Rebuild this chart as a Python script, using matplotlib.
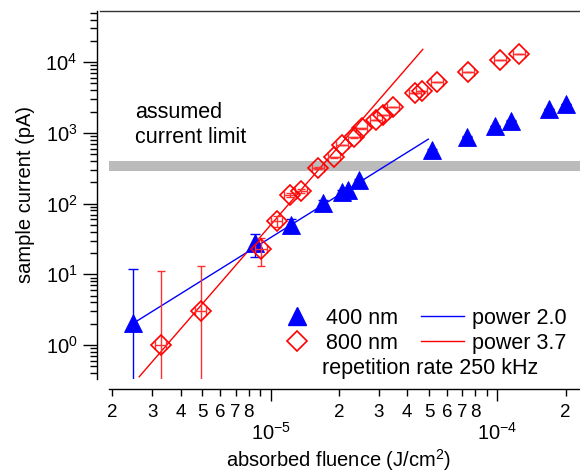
import numpy as np
import matplotlib
matplotlib.use('Agg')
import matplotlib.pyplot as plt
from matplotlib.ticker import LogLocator, FuncFormatter, NullFormatter
from matplotlib.lines import Line2D

plt.rcParams['font.family'] = ['Liberation Sans', 'DejaVu Sans']
plt.rcParams['mathtext.fontset'] = 'custom'
plt.rcParams['mathtext.rm'] = 'Liberation Sans'
plt.rcParams['mathtext.default'] = 'rm'

# 400 nm data (J/cm^2, pA)
fluence_400 = [2.46e-6, 8.53e-6, 1.223e-5, 1.71e-5, 2.06e-5, 2.2e-5, 2.46e-5,
               5.13e-5, 7.37e-5, 9.77e-5, 1.15e-4, 1.69e-4, 2.02e-4]
current_400 = [2.07, 27.4, 49.8, 101, 147, 156, 216,
               573, 884, 1252, 1489, 2157, 2564]
yerr_400 = 10

# 800 nm data
fluence_800 = [3.27e-6, 4.91e-6, 9.06e-6, 1.063e-5, 1.217e-5, 1.36e-5, 1.62e-5,
               1.90e-5, 2.06e-5, 2.33e-5, 2.52e-5, 2.91e-5, 3.14e-5, 3.48e-5,
               4.33e-5, 4.64e-5, 5.43e-5, 7.45e-5, 1.03e-4, 1.247e-4]
current_800 = [1.0, 3.0, 23, 57, 132, 151, 316,
               452, 674, 866, 1161, 1522, 1791, 2348,
               3630, 3955, 5297, 7340, 10740, 12940]
yerr_800 = 10
xerr_800_rel = 0.06

# power-law fits: exponent, log10 prefactor, fluence range
fit_400 = (2.0, 11.52, 2.46e-6, 4.96e-5)
fit_800 = (3.7, 20.198, 2.63e-6, 4.69e-5)

limit_band = (290, 400)

xlim = (1.94e-6, 2.317e-4)
ylim = (0.3305, 5.35e4)


def _decade_fmt(v, pos):
	return "10$^{%d}$" % int(round(np.log10(v)))


def _minor_fmt(v, pos):
	m = v / 10 ** np.floor(np.log10(v) + 1e-9)
	k = int(round(m))
	if 2 <= k <= 8:
		return str(k)
	return ""


fig = plt.figure(figsize=(5.8, 4.72), dpi=100)
ax = fig.add_axes([109.3 / 580, (472 - 379) / 472, (580 - 109.3) / 580, (379 - 10.7) / 472])
ax.set_xscale('log')
ax.set_yscale('log')
ax.set_xlim(*xlim)
ax.set_ylim(*ylim)

ax.axhspan(limit_band[0], limit_band[1], color='#bbbbbb', lw=0, zorder=0)

for (p, la, lo, hi), c in [(fit_400, 'blue'), (fit_800, 'red')]:
	xf = np.geomspace(lo, hi, 50)
	ax.plot(xf, 10 ** la * xf ** p, color=c, lw=1, zorder=2)

fx4 = np.array(fluence_400)
cy4 = np.array(current_400)
ax.errorbar(fx4, cy4, yerr=yerr_400, fmt='none', ecolor='blue', elinewidth=1,
            capsize=3.5, capthick=1, zorder=3)
ax.plot(fx4, cy4, ls='none', marker='^', ms=12.5, color='blue', mew=0.6, zorder=4)

fx8 = np.array(fluence_800)
cy8 = np.array(current_800)
ax.errorbar(fx8, cy8, yerr=yerr_800, xerr=xerr_800_rel * fx8, fmt='none',
            ecolor='#ff3030', elinewidth=1, capsize=3, capthick=1, zorder=5)
ax.plot(fx8, cy8, ls='none', marker='D', ms=10, mfc='none', mec='red', mew=1.2, zorder=6)

ax.text(0.054, 0.752, "assumed\ncurrent limit", transform=ax.transAxes,
        fontsize=15.5, va='top', ha='left', linespacing=1.22)

ax.xaxis.set_major_locator(LogLocator(base=10, numticks=10))
ax.xaxis.set_minor_locator(LogLocator(base=10, subs=np.arange(2, 10), numticks=10))
ax.xaxis.set_major_formatter(FuncFormatter(_decade_fmt))
ax.xaxis.set_minor_formatter(FuncFormatter(_minor_fmt))
ax.yaxis.set_major_locator(LogLocator(base=10, numticks=10))
ax.yaxis.set_minor_locator(LogLocator(base=10, subs=np.arange(2, 10), numticks=10))
ax.yaxis.set_major_formatter(FuncFormatter(_decade_fmt))
ax.yaxis.set_minor_formatter(NullFormatter())

ax.tick_params(axis='x', which='major', direction='out', length=8.6, width=1, pad=15, labelsize=14.5)
ax.tick_params(axis='x', which='minor', direction='out', length=5, width=1, pad=6, labelsize=13.5)
ax.tick_params(axis='y', which='major', direction='out', length=10, width=1, pad=4, labelsize=14.5)
ax.tick_params(axis='y', which='minor', direction='out', length=5, width=1)

ax.spines['left'].set_position(('outward', 9))
ax.spines['bottom'].set_position(('outward', 7))
ax.spines['right'].set_visible(False)
ax.spines['top'].set_bounds(xlim[0] / 10 ** (9.3 / 226.6), xlim[1])
for s in ax.spines.values():
	s.set_linewidth(1)
ax.spines['top'].set_color('#333333')

ax.set_xlabel("absorbed fluence (J/cm$^{2}$)", fontsize=14.5)
ax.set_ylabel("sample current (pA)", fontsize=14.5)
ax.xaxis.set_label_coords(0.488, -0.186)
ax.yaxis.set_label_coords(-0.157, 0.5)

handles = [Line2D([], [], ls='none', marker='^', ms=12.5, color='blue'),
           Line2D([], [], ls='none', marker='D', ms=10, mfc='none', mec='red', mew=1.2),
           Line2D([], [], color='blue', lw=1),
           Line2D([], [], color='red', lw=1)]
labels = ['400 nm', '800 nm', 'power 2.0', 'power 3.7']
ax.legend(handles, labels, ncol=2, frameon=False, fontsize=15.5, loc='center',
          bbox_to_anchor=(0.662, 0.131), handlelength=2, handletextpad=0.35,
          columnspacing=1.1, labelspacing=0.2, borderpad=0, borderaxespad=0)
ax.text(0.682, 0.029, "repetition rate 250 kHz", transform=ax.transAxes,
        fontsize=15.5, ha='center', va='center')

fig.savefig('out.png', dpi=100)
